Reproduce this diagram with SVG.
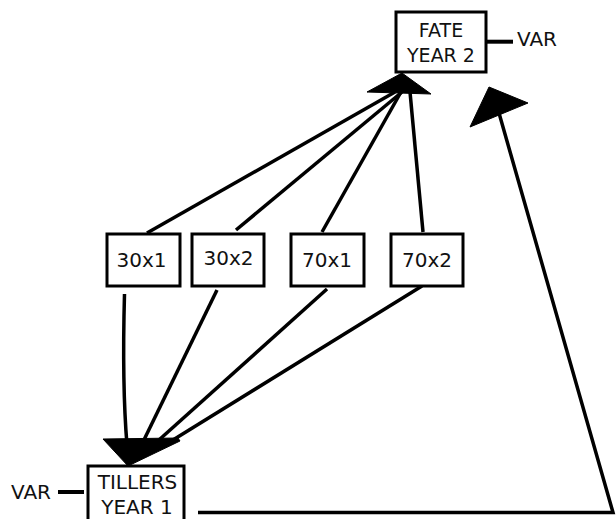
<svg xmlns="http://www.w3.org/2000/svg" width="616" height="519" viewBox="0 0 616 519">
<style>
.box{fill:#fff;stroke:#000;stroke-width:3}
.lbl{font-family:"DejaVu Sans","Liberation Sans",sans-serif;font-size:20px;fill:#111;text-anchor:middle}
.var{font-family:"DejaVu Sans","Liberation Sans",sans-serif;font-size:20px;fill:#111}
.edge{fill:none;stroke:#000;stroke-width:3.5}
.head{fill:#000;stroke:#000;stroke-width:1;stroke-linejoin:round}
</style>
<rect width="616" height="519" fill="#fff"/>
<g id="connectors">
<path class="edge" d="M147,233 L395,92"/>
<path class="edge" d="M236,230 L402,92"/>
<path class="edge" d="M322,232 L401,92"/>
<path class="edge" d="M423,232 L410,92"/>
<polygon class="head" points="367,92 402,73 431,94"/>
<path class="edge" d="M124.5,294 Q122,385 127,445"/>
<path class="edge" d="M217,290 L140,448"/>
<path class="edge" d="M327,289 L150,448"/>
<path class="edge" d="M422,286 L160,448"/>
<polygon class="head" points="103,439 178,438 180,441 128,466"/>
<path class="edge" d="M198,512.5 L613,512.5 L499,113"/>
<polygon class="head" points="489,87 528,103 470,127"/>
<path class="edge" style="stroke-width:4" d="M486,41.7 L513,41.7"/>
<path class="edge" style="stroke-width:4" d="M58,492 L84,492"/>
</g>
<g id="fate">
<rect class="box" x="396" y="12" width="90" height="60"/>
<text class="lbl" style="font-size:19px" x="441" y="36.7">FATE</text>
<text class="lbl" style="font-size:19px" x="441" y="61.7">YEAR 2</text>
</g>
<g id="var-fate"><text class="var" x="517" y="46">VAR</text></g>
<g id="n30x1">
<rect class="box" x="107" y="234" width="73" height="52"/>
<text class="lbl" x="141.5" y="266.7">30x1</text>
</g>
<g id="n30x2">
<rect class="box" x="192" y="234" width="72" height="52"/>
<text class="lbl" x="228.5" y="265">30x2</text>
</g>
<g id="n70x1">
<rect class="box" x="291" y="234" width="73" height="52"/>
<text class="lbl" x="327" y="266.7">70x1</text>
</g>
<g id="n70x2">
<rect class="box" x="391" y="234" width="72" height="52"/>
<text class="lbl" x="427" y="267">70x2</text>
</g>
<g id="tillers">
<rect class="box" x="88" y="466" width="96" height="62"/>
<text class="lbl" x="137.5" y="489">TILLERS</text>
<text class="lbl" x="137" y="514">YEAR 1</text>
</g>
<g id="var-tillers"><text class="var" x="11" y="499">VAR</text></g>
</svg>
